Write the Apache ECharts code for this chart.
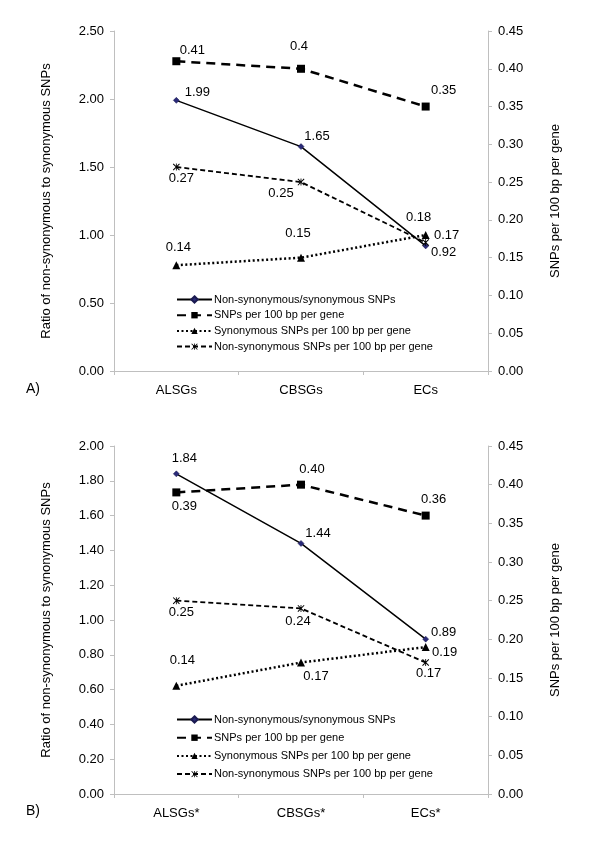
<!DOCTYPE html>
<html>
<head>
<meta charset="utf-8">
<script src="https://cdn.jsdelivr.net/npm/echarts@6/dist/echarts.min.js"></script>
<style>
html,body{margin:0;padding:0;background:#fff;}
#chart{width:600px;height:854px;}
</style>
</head>
<body>
<div id="chart"></div>
<script>
// ---- data ----
const categoriesA = ['ALSGs', 'CBSGs', 'ECs'];
const categoriesB = ['ALSGs*', 'CBSGs*', 'ECs*'];
const seriesNames = [
  'Non-synonymous/synonymous SNPs',
  'SNPs per 100 bp per gene',
  'Synonymous SNPs per 100 bp per gene',
  'Non-synonymous SNPs per 100 bp per gene'
];
// Panel A
const ratioA = [1.99, 1.65, 0.92];
const snpsA = [0.41, 0.40, 0.35];
const synA = [0.14, 0.15, 0.18];
const nonsynA = [0.27, 0.25, 0.17];
const snpsLabelA = ['0.41', '0.4', '0.35'];
// Panel B
const ratioB = [1.84, 1.44, 0.89];
const snpsB = [0.39, 0.40, 0.36];
const synB = [0.14, 0.17, 0.19];
const nonsynB = [0.25, 0.24, 0.17];
// tick settings
const leftMaxA = 2.5, leftStepA = 0.5;
const leftMaxB = 2.0, leftStepB = 0.2;
const rightMax = 0.45, rightStep = 0.05;

// ---- layout / style (label offsets in px, relative to point) ----
const offA = {
  ratio: [[21, -8], [16, -10], [18, 7]],
  snps: [[16, -11], [-2, -22], [18, -16]],
  syn: [[2, -18], [-3, -24], [-7, -18]],
  nonsyn: [[5, 11], [-20, 11], [21, -7]]
};
const offB = {
  ratio: [[8, -15], [17, -10], [18, -7]],
  snps: [[8, 14], [11, -15], [8, -16]],
  syn: [[6, -25], [15, 14], [19, 5]],
  nonsyn: [[5, 12], [-3, 13], [3, 11]]
};

const FONT = 'Liberation Sans, Arial, sans-serif';
const AXIS_GRAY = '#bfbfbf';
const asterisk = 'path://M0 1L1 0L10 9L9 10Z M9 0L10 1L1 10L0 9Z M4.4 0L5.6 0L5.6 10L4.4 10Z';

function mkData(vals, offs, texts) {
  return vals.map((v, i) => ({
    value: v,
    label: {
      show: true,
      position: 'inside',
      align: 'center',
      verticalAlign: 'middle',
      offset: offs[i],
      formatter: texts ? texts[i] : v.toFixed(2),
      color: '#000',
      fontSize: 13,
      fontFamily: FONT
    }
  }));
}

const styles = [
  { symbol: 'diamond', symbolSize: 6, itemStyle: { color: '#2a2a78', borderColor: '#1a1a50', borderWidth: 0.5 },
    lineStyle: { color: '#000', width: 1.5, type: 'solid' } },
  { symbol: 'rect', symbolSize: 8, itemStyle: { color: '#000' },
    lineStyle: { color: '#000', width: 2.5, type: [9, 6] } },
  { symbol: 'triangle', symbolSize: 8, itemStyle: { color: '#000' },
    lineStyle: { color: '#000', width: 2.5, type: [2, 2.5] } },
  { symbol: asterisk, symbolSize: 7, itemStyle: { color: '#000' },
    lineStyle: { color: '#000', width: 1.8, type: [5, 3] } }
];

function mkSeries(idx, gridIdx, vals, offs, texts) {
  const s = styles[idx];
  const leftAxis = gridIdx * 2, rightAxis = gridIdx * 2 + 1;
  return {
    type: 'line',
    name: seriesNames[idx],
    xAxisIndex: gridIdx,
    yAxisIndex: idx === 0 ? leftAxis : rightAxis,
    data: mkData(vals, offs, texts),
    symbol: s.symbol,
    symbolSize: s.symbolSize,
    showAllSymbol: true,
    itemStyle: s.itemStyle,
    lineStyle: s.lineStyle,
    emphasis: { disabled: true },
    animation: false,
    z: 3 + idx
  };
}

function mkXAxis(gridIdx, cats) {
  return {
    type: 'category', gridIndex: gridIdx, data: cats, boundaryGap: true,
    axisLine: { show: true, lineStyle: { color: AXIS_GRAY, width: 1 } },
    axisTick: { show: true, length: 4, lineStyle: { color: AXIS_GRAY } },
    axisLabel: { color: '#000', fontSize: 13, fontFamily: FONT, margin: 13 },
    splitLine: { show: false }
  };
}

function mkYAxis(gridIdx, pos, max, step, name) {
  return {
    type: 'value', gridIndex: gridIdx, position: pos, min: 0, max: max, interval: step,
    name: name, nameLocation: 'middle', nameRotate: 90, nameGap: 61,
    nameTextStyle: { color: '#000', fontSize: 13, fontFamily: FONT },
    axisLine: { show: true, lineStyle: { color: AXIS_GRAY, width: 1 } },
    axisTick: { show: true, length: 4, lineStyle: { color: AXIS_GRAY } },
    axisLabel: { color: '#000', fontSize: 13, fontFamily: FONT, margin: 10,
      formatter: v => v.toFixed(2) },
    splitLine: { show: false }
  };
}

function mkLegend(top, gap) {
  return {
    orient: 'vertical', left: 176, top: top, padding: 0,
    itemWidth: 35, itemHeight: 8, itemGap: gap,
    selectedMode: false,
    textStyle: { color: '#000', fontSize: 11, fontFamily: FONT, padding: [0, 0, 0, -3] },
    data: seriesNames
  };
}

const chart = echarts.init(document.getElementById('chart'), null, { renderer: 'canvas' });
chart.setOption({
  backgroundColor: '#fff',
  animation: false,
  grid: [
    { left: 114, width: 374, top: 31, height: 340 },
    { left: 114, width: 374, top: 446, height: 348 }
  ],
  xAxis: [mkXAxis(0, categoriesA), mkXAxis(1, categoriesB)],
  yAxis: [
    mkYAxis(0, 'left', leftMaxA, leftStepA, 'Ratio of non-synonymous to synonymous SNPs'),
    mkYAxis(0, 'right', rightMax, rightStep, 'SNPs per 100 bp per gene'),
    mkYAxis(1, 'left', leftMaxB, leftStepB, 'Ratio of non-synonymous to synonymous SNPs'),
    mkYAxis(1, 'right', rightMax, rightStep, 'SNPs per 100 bp per gene')
  ],
  legend: [mkLegend(294, 4.7), mkLegend(714, 7.2)],
  graphic: [
    { type: 'text', left: 26, top: 382, style: { text: 'A)', fontSize: 14, fontFamily: FONT, fill: '#000' } },
    { type: 'text', left: 26, top: 804, style: { text: 'B)', fontSize: 14, fontFamily: FONT, fill: '#000' } }
  ],
  series: [
    mkSeries(0, 0, ratioA, offA.ratio),
    mkSeries(1, 0, snpsA, offA.snps, snpsLabelA),
    mkSeries(2, 0, synA, offA.syn),
    mkSeries(3, 0, nonsynA, offA.nonsyn),
    mkSeries(0, 1, ratioB, offB.ratio),
    mkSeries(1, 1, snpsB, offB.snps),
    mkSeries(2, 1, synB, offB.syn),
    mkSeries(3, 1, nonsynB, offB.nonsyn)
  ]
});
</script>
</body>
</html>
